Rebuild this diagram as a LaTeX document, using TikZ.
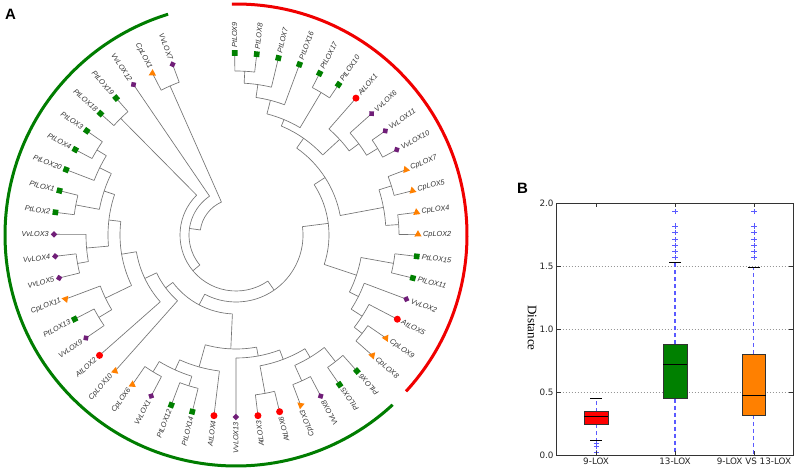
\documentclass[tikz,border=0pt]{standalone}
\usepackage{fontspec}
\setmainfont{Liberation Serif}
\setsansfont{Liberation Sans}
\newfontfamily\dejavu{DejaVu Sans}
\usetikzlibrary{shapes.geometric}
\definecolor{cG}{RGB}{0,128,0}
\definecolor{cP}{RGB}{112,30,120}
\definecolor{cR}{RGB}{255,0,0}
\definecolor{cO}{RGB}{255,128,0}
\definecolor{cArcR}{RGB}{240,0,0}
\definecolor{cArcG}{RGB}{0,125,0}
\definecolor{treegray}{RGB}{115,115,115}
\definecolor{lblgray}{RGB}{50,50,50}
\definecolor{whisk}{RGB}{90,90,255}
\definecolor{gridc}{RGB}{150,150,150}
\definecolor{boxline}{RGB}{50,50,50}
\tikzset{
 tree/.style={draw=treegray, line width=0.65pt},
 msq/.style={rectangle, fill=cG, minimum size=5.6pt, inner sep=0pt, rotate=#1},
 mdm/.style={rectangle, fill=cP, minimum size=4.6pt, inner sep=0pt, rotate=#1+45},
 mci/.style={circle, fill=cR, minimum size=7pt, inner sep=0pt},
 mtr/.style={regular polygon, regular polygon sides=3, fill=cO, minimum size=8.4pt, inner sep=0pt, rotate=#1},
 lbl/.style={font=\sffamily\itshape\fontsize{7.3}{8}\selectfont, text=lblgray, inner sep=0pt},
 wline/.style={draw=whisk, line width=1.1pt, dash pattern=on 4pt off 3pt},
 capline/.style={draw=black, line width=0.9pt},
 boxst/.style={draw=boxline, line width=0.8pt},
 ticklbl/.style={font=\dejavu\fontsize{8.8}{10}\selectfont, text=black!85, inner sep=0pt},
 panel/.style={font=\sffamily\bfseries\fontsize{15}{15}\selectfont, inner sep=0pt},
}
% internal node: name, position, radius, parent radius, first child pos, last child pos
\newcommand\inode[6]{%
 \pgfmathsetmacro\tka{90.4-6.939*(#2)}%
 \pgfmathsetmacro\tkb{90.4-6.939*(#5)}%
 \pgfmathsetmacro\tkc{90.4-6.939*(#6)}%
 \coordinate (#1) at (\tka:#3pt);
 \draw[tree] (\tka:#4pt) -- (#1);
 \draw[tree] (\tkb:#3pt) arc[start angle=\tkb, end angle=\tkc, radius=#3pt];
}
% leaf: position, label, marker style, parent radius
\newcommand\leafR[4]{%
 \pgfmathsetmacro\lfang{90.4-6.939*(#1)}%
 \draw[tree] (\lfang:#4pt) -- (\lfang:182pt);
 \node[#3=\lfang] (m#1) at (\lfang:182pt) {};
 \node[lbl, anchor=west, rotate=\lfang] (t#1) at (\lfang:187pt) {#2};
}
\newcommand\leafG[4]{%
 \pgfmathsetmacro\lfang{90.4-6.939*(#1)}%
 \draw[tree] (\lfang:#4pt) -- (\lfang:182pt);
 \node[#3=\lfang] (m#1) at (\lfang:182pt) {};
 \node[lbl, anchor=east, rotate=\lfang+180] (t#1) at (\lfang:187pt) {#2};
}
\begin{document}
\begin{tikzpicture}[x=1pt,y=-1pt]
\useasboundingbox (0,0) rectangle (798,471);
\fill[white] (0,0) rectangle (798,471);
\node[panel] (pA) at (10.5,14.5) {A};
\node[panel] (pB) at (522.5,188.5) {B};

\begin{scope}[shift={(236,235)}]
 % coloured group arcs
 \draw[cArcR, line width=3pt] (91:231pt) arc[start angle=91, end angle=-42.6, radius=231pt];
 \draw[cArcG, line width=3pt] (-47.3:231pt) arc[start angle=-47.3, end angle=-252.9, radius=231pt];
 % internal nodes
 \inode{na1}{0.5}{164}{152}{0}{1}
 \inode{na2}{1.25}{152}{139}{0.5}{2}
 \inode{na3}{2.125}{139}{125}{1.25}{3}
 \inode{na4}{4.5}{166}{125}{4}{5}
 \inode{na5}{3.3125}{125}{118}{2.125}{4.5}
 \inode{nb1}{8.5}{166}{153}{8}{9}
 \inode{nb2}{7.75}{153}{141}{7}{8.5}
 \inode{nb3}{6.875}{141}{118}{6}{7.75}
 \inode{nc}{5.09375}{118}{106}{3.3125}{6.875}
 \inode{ne1}{10.5}{163}{150}{10}{11}
 \inode{ne2}{12.5}{163}{150}{12}{13}
 \inode{ne}{11.5}{150}{106}{10.5}{12.5}
 \inode{nd}{8.296875}{106}{93}{5.09375}{11.5}
 \inode{nf}{14.5}{160}{127}{14}{15}
 \inode{ni}{18.5}{160}{150}{18}{19}
 \inode{nh}{17.75}{150}{137}{17}{18.5}
 \inode{ng}{16.875}{137}{127}{16}{17.75}
 \inode{nY}{15.6875}{127}{93}{14.5}{16.875}
 \inode{nN4}{11.9922}{93}{67}{8.296875}{15.6875}
 \inode{nz3a}{20.5}{161}{143}{20}{21}
 \inode{nz3b}{22.5}{160}{143}{22}{23}
 \inode{nz3}{21.5}{143}{133}{20.5}{22.5}
 \inode{nz4}{24.5}{161}{133}{24}{25}
 \inode{nz2}{23}{133}{123}{21.5}{24.5}
 \inode{nZ1}{24.5}{123}{114}{23}{26}
 \inode{nw3}{28.5}{158}{148}{28}{29}
 \inode{nw4}{30.5}{160}{148}{30}{31}
 \inode{nw2}{29.5}{148}{137}{28.5}{30.5}
 \inode{nw1}{28.25}{137}{114}{27}{29.5}
 \inode{nW}{26.375}{114}{79}{24.5}{28.25}
 \inode{nt2}{34.5}{160}{145}{34}{35}
 \inode{nt1}{35.25}{145}{116}{34.5}{36}
 \inode{ns4}{37.5}{161}{150}{37}{38}
 \inode{ns1}{38.25}{150}{128}{37.5}{39}
 \inode{ns5}{40.5}{163}{139}{40}{41}
 \inode{ns6}{43.5}{163}{152}{43}{44}
 \inode{ns3}{42.75}{152}{139}{42}{43.5}
 \inode{ns2}{41.625}{139}{128}{40.5}{42.75}
 \inode{nS}{39.9375}{128}{116}{38.25}{41.625}
 \inode{nT}{37.59375}{116}{101}{35.25}{39.9375}
 \inode{nU2}{35.296875}{101}{88}{33}{37.59375}
 \inode{nU}{33.6484}{88}{79}{32}{35.296875}
 \inode{nV}{30.0117}{79}{67}{26.375}{33.6484}
 \inode{nN3}{21.002}{67}{56}{11.9922}{30.0117}
 \inode{nP}{45.5}{164}{56}{45}{46}
 \inode{nN2}{33.251}{56}{47}{21.002}{45.5}
 \inode{nN1}{40.1255}{47}{36}{33.251}{47}
 \inode{nA}{48.5}{163}{36}{48}{49}
 \pgfmathsetmacro\tkb{90.4-6.939*40.1255}
 \pgfmathsetmacro\tkc{90.4-6.939*48.5}
 \draw[tree] (\tkb:36pt) arc[start angle=\tkb, end angle=\tkc, radius=36pt];
 % leaves, red group
 \leafR{0}{PtLOX9}{msq}{164}
 \leafR{1}{PtLOX8}{msq}{164}
 \leafR{2}{PtLOX7}{msq}{152}
 \leafR{3}{PtLOX16}{msq}{139}
 \leafR{4}{PtLOX17}{msq}{166}
 \leafR{5}{PtLOX10}{msq}{166}
 \leafR{6}{AtLOX1}{mci}{141}
 \leafR{7}{VvLOX6}{mdm}{153}
 \leafR{8}{VvLOX11}{mdm}{166}
 \leafR{9}{VvLOX10}{mdm}{166}
 \leafR{10}{CpLOX7}{mtr}{163}
 \leafR{11}{CpLOX5}{mtr}{163}
 \leafR{12}{CpLOX4}{mtr}{163}
 \leafR{13}{CpLOX2}{mtr}{163}
 \leafR{14}{PtLOX15}{msq}{160}
 \leafR{15}{PtLOX11}{msq}{160}
 \leafR{16}{VvLOX2}{mdm}{137}
 \leafR{17}{AtLOX5}{mci}{150}
 \leafR{18}{CpLOX9}{mtr}{160}
 \leafR{19}{CpLOX8}{mtr}{160}
 % leaves, green group
 \leafG{20}{PtLOX6}{msq}{161}
 \leafG{21}{PtLOX5}{msq}{161}
 \leafG{22}{VvLOX8}{mdm}{160}
 \leafG{23}{CpLOX3}{mtr}{160}
 \leafG{24}{AtLOX6}{mci}{161}
 \leafG{25}{AtLOX3}{mci}{161}
 \leafG{26}{VvLOX13}{mdm}{123}
 \leafG{27}{AtLOX4}{mci}{137}
 \leafG{28}{PtLOX14}{msq}{158}
 \leafG{29}{PtLOX12}{msq}{158}
 \leafG{30}{VvLOX1}{mdm}{160}
 \leafG{31}{CpLOX6}{mtr}{160}
 \leafG{32}{CpLOX10}{mtr}{88}
 \leafG{33}{AtLOX2}{mci}{101}
 \leafG{34}{VvLOX9}{mdm}{160}
 \leafG{35}{PtLOX13}{msq}{160}
 \leafG{36}{CpLOX11}{mtr}{145}
 \leafG{37}{VvLOX5}{mdm}{161}
 \leafG{38}{VvLOX4}{mdm}{161}
 \leafG{39}{VvLOX3}{mdm}{150}
 \leafG{40}{PtLOX2}{msq}{163}
 \leafG{41}{PtLOX1}{msq}{163}
 \leafG{42}{PtLOX20}{msq}{152}
 \leafG{43}{PtLOX4}{msq}{163}
 \leafG{44}{PtLOX3}{msq}{163}
 \leafG{45}{PtLOX18}{msq}{164}
 \leafG{46}{PtLOX19}{msq}{164}
 \leafG{47}{VvLOX12}{mdm}{47}
 \leafG{48}{CpLOX1}{mtr}{163}
 \leafG{49}{VvLOX7}{mdm}{163}
\end{scope}

% ---------- box plot ----------
\begin{scope}[shift={(556.7,455)}, x=1pt, y=125.85pt]
 \foreach \v in {0.5,1,1.5} \draw[gridc, line width=0.6pt, dash pattern=on 1pt off 2pt] (0,\v) -- (236.6,\v);
 % 9-LOX
 \draw[wline] (39.4,0.344) -- (39.4,0.448);
 \draw[wline] (39.4,0.246) -- (39.4,0.119);
 \draw[boxst, fill=cR] (27.4,0.246) rectangle (51.4,0.344);
 \draw[capline] (27.4,0.305) -- (51.4,0.305);
 \draw[capline] (33.4,0.448) -- (45.4,0.448);
 \draw[capline] (33.4,0.119) -- (45.4,0.119);
 \foreach \v in {0.093,0.066,0.018}
   \draw[whisk, line width=0.6pt] (39.4,\v) +(-2.6pt,0) -- +(2.6pt,0) +(0,-2.6pt) -- +(0,2.6pt);
 % 13-LOX
 \draw[wline] (118.3,0.882) -- (118.3,1.532);
 \draw[wline] (118.3,0.448) -- (118.3,0);
 \draw[boxst, fill=cG] (106.3,0.448) rectangle (130.3,0.882);
 \draw[capline] (106.3,0.723) -- (130.3,0.723);
 \draw[capline] (112.3,1.532) -- (124.3,1.532);
 \foreach \v in {1.934,1.82,1.767,1.714,1.667,1.619,1.571}
   \draw[whisk, line width=0.6pt] (118.3,\v) +(-2.6pt,0) -- +(2.6pt,0) +(0,-2.6pt) -- +(0,2.6pt);
 % 9-LOX VS 13-LOX
 \draw[wline] (197.2,0.803) -- (197.2,1.492);
 \draw[wline] (197.2,0.318) -- (197.2,0);
 \draw[boxst, fill=cO] (185.5,0.318) rectangle (208.9,0.803);
 \draw[capline] (185.5,0.477) -- (208.9,0.477);
 \draw[capline] (191.2,1.492) -- (203.2,1.492);
 \foreach \v in {1.934,1.82,1.767,1.714,1.667,1.619,1.571}
   \draw[whisk, line width=0.6pt] (197.2,\v) +(-2.6pt,0) -- +(2.6pt,0) +(0,-2.6pt) -- +(0,2.6pt);
 % frame and ticks
 \draw[black!80, line width=0.9pt] (0,0) rectangle (236.6,2);
 \foreach \v in {0,0.5,1,1.5,2} {
   \draw[black!80, line width=0.6pt] (0,\v) -- +(4pt,0);
   \draw[black!80, line width=0.6pt] (236.6,\v) -- +(-4pt,0);
 }
 \foreach \xx in {39.4,118.3,197.2} {
   \draw[black!80, line width=0.6pt] (\xx,0) -- +(0,4pt);
   \draw[black!80, line width=0.6pt] (\xx,2) -- +(0,-4pt);
 }
 \node[ticklbl, anchor=east] (y0) at ([xshift=-3pt]0,0) {0.0};
 \node[ticklbl, anchor=east] (y1) at ([xshift=-3pt]0,0.5) {0.5};
 \node[ticklbl, anchor=east] (y2) at ([xshift=-3pt]0,1) {1.0};
 \node[ticklbl, anchor=east] (y3) at ([xshift=-3pt]0,1.5) {1.5};
 \node[ticklbl, anchor=east] (y4) at ([xshift=-3pt]0,2) {2.0};
 \node[ticklbl, anchor=north] (x1) at ([yshift=-3pt]39.4,0) {9-LOX};
 \node[ticklbl, anchor=north] (x2) at ([yshift=-3pt]118.3,0) {13-LOX};
 \node[ticklbl, anchor=north] (x3) at ([yshift=-3pt]197.2,0) {9-LOX VS 13-LOX};
\end{scope}
\node[rotate=-90, font=\rmfamily\fontsize{13}{14}\selectfont, inner sep=0pt] (dist) at (532,328) {Distance};
\end{tikzpicture}
\end{document}
